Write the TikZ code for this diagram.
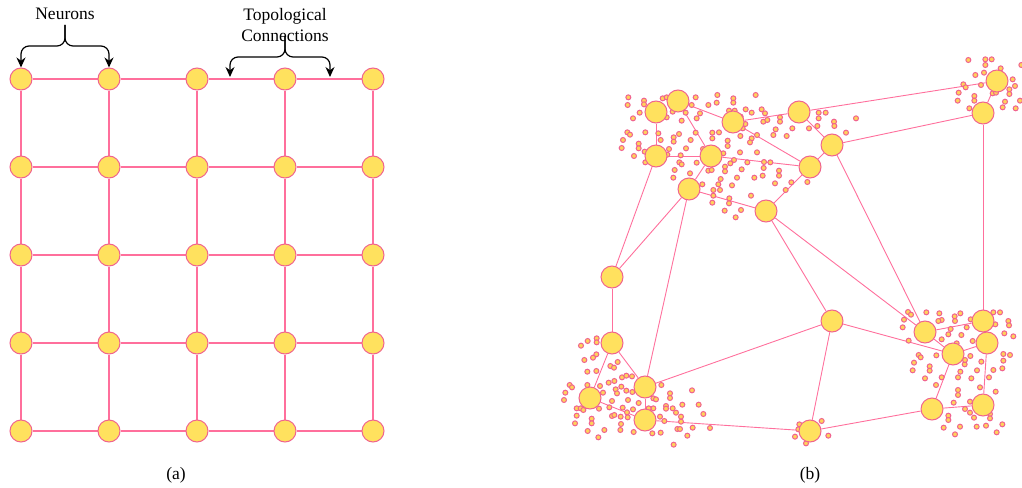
\documentclass[tikz,border=0pt]{standalone}
\usepackage{fontspec}
\setmainfont{Liberation Serif}
\usetikzlibrary{arrows.meta}
\definecolor{linkpink}{HTML}{FF6F9C}
\definecolor{rimpink}{HTML}{F0648F}
\definecolor{cellyellow}{HTML}{FFE15E}
\definecolor{dotyellow}{HTML}{FFD15A}
\pgfdeclarelayer{edges}
\pgfdeclarelayer{dots}
\pgfsetlayers{edges,dots,main}

\begin{document}
\begin{tikzpicture}[x=1pt,y=-1pt,
  neuron/.style={circle,draw=rimpink,fill=cellyellow,line width=1pt,minimum size=22pt,inner sep=0pt},
  link/.style={draw=linkpink,line width=0.9pt},
  gridlink/.style={draw=linkpink,line width=1.1pt},
  spark/.style={circle,draw=rimpink,fill=dotyellow,line width=1pt,minimum size=5pt,inner sep=0pt},
  pointer/.style={draw=black,line width=1.2pt,rounded corners=8pt,-{Stealth[length=10pt,width=9pt]}},
  caption/.style={font=\fontsize{17.5}{21}\selectfont,align=center,inner sep=1pt}]
\useasboundingbox (0,0) rectangle (1022,487);

% ---------- (a) regular lattice ----------
\foreach \x [count=\c] in {21,109,197,285,373}{
  \foreach \y [count=\r] in {79,167,255,343,431}{
    \node[neuron] (g\c\r) at (\x,\y) {};
  }
}
\begin{pgfonlayer}{edges}
  \foreach \c in {1,...,5}{
    \foreach \r [evaluate=\r as \s using int(\r+1)] in {1,...,4}{
      \draw[gridlink] (g\c\r) -- (g\c\s);
    }
  }
  \foreach \c [evaluate=\c as \d using int(\c+1)] in {1,...,4}{
    \foreach \r in {1,...,5}{
      \draw[gridlink] (g\c\r) -- (g\d\r);
    }
  }
\end{pgfonlayer}

\node[caption] (neu) at (65,14) {Neurons};
\node[caption] (topo) at (285,25) {Topological\\Connections};
\coordinate (nb) at (65,25);
\draw[pointer] (nb) -- (65,46) -- (21,46) -- (g11.north);
\draw[pointer] (nb) -- (65,46) -- (109,46) -- (g21.north);
\coordinate (tb) at (285,36);
\coordinate (tl) at (230,77);
\coordinate (tr) at (330,77);
\draw[pointer] (tb) -- (285,57) -- (230,57) -- (tl);
\draw[pointer] (tb) -- (285,57) -- (330,57) -- (tr);

\node[caption] (capa) at (176,475) {(a)};

% ---------- (b) self-organised network ----------
\node[neuron] (A) at (656,112) {};
\node[neuron] (B) at (678,101) {};
\node[neuron] (C) at (733,122) {};
\node[neuron] (D) at (799,112) {};
\node[neuron] (E) at (832,145) {};
\node[neuron] (F) at (656,156) {};
\node[neuron] (G) at (711,156) {};
\node[neuron] (H) at (810,167) {};
\node[neuron] (I) at (689,189) {};
\node[neuron] (J) at (766,211) {};
\node[neuron] (K) at (997,81) {};
\node[neuron] (L) at (983,113) {};
\node[neuron] (M) at (612,277) {};
\node[neuron] (N) at (832,321) {};
\node[neuron] (O) at (612,343) {};
\node[neuron] (P) at (590,398) {};
\node[neuron] (Q) at (645,387) {};
\node[neuron] (R) at (645,420) {};
\node[neuron] (S) at (925,332) {};
\node[neuron] (T) at (983,321) {};
\node[neuron] (U) at (987,343) {};
\node[neuron] (V) at (953,354) {};
\node[neuron] (W) at (932,409) {};
\node[neuron] (X) at (983,405) {};
\node[neuron] (Y) at (810,431) {};

\begin{pgfonlayer}{edges}
  \foreach \u/\v in {A/F,B/C,B/G,F/G,C/D,D/K,D/E,E/L,C/H,G/H,E/H,G/I,I/J,J/H,
                     F/M,I/M,I/Q,J/N,J/S,E/S,L/T,K/L,S/T,N/V,S/V,V/U,U/X,V/W,
                     W/X,W/Y,N/Y,R/Y,Q/N,M/O,O/P,O/Q,P/R,Q/R}{
    \draw[link] (\u) -- (\v);
  }
\end{pgfonlayer}

% scattered samples around the neurons
\begin{pgfonlayer}{dots}
\begin{scope}[shift={(560,50)},scale=1/3]
  \foreach \x/\y [count=\k] in {205/142,203/165,252/152,252/163,239/188,219/205,308/145,320/142,
    338/185,320/202,377/188,365/212,395/165,407/142,420/190,410/205,445/165,472/135,470/158,
    520/145,520/158,507/182,557/178,575/188,587/135,605/178,615/190,610/215,622/210,660/202,
    660/215,697/235,680/258,647/238,640/255,591/255,575/265,570/277,556/222,548/235,541/258,
    524/182,542/200,776/188,797/188,776/205,822/215,823/228,747/235,772/228,858/248,888/205,
    202/247,210/254,189/270,185/294,236/281,236/295,222/318,256/247,295/250,302/270,341/262,
    341/275,357/252,378/295,392/270,407/248,327/297,322/314,362/316,358/337,365/343,344/360,
    340/383,390/370,410/338,457/248,477/247,457/265,503/272,503/288,490/310,540/307,522/330,
    511/340,495/350,495/364,482/387,475/403,460/420,460/437,457/458,480/420,516/406,508/445,
    507/460,494/482,527/502,543/480,573/437,531/383,545/358,562/337,583/383,608/377,611/354,
    612/336,631/337,657/362,657/377,645/400,694/397,677/420,742/396,591/307,445/362,455/360,
    427/403,429/297,256/337,254/305}{
    \node[spark] (ta\k) at (\x,\y) {};
  }
\end{scope}
\begin{scope}[shift={(880,50)},scale=1/3]
  \foreach \x/\y [count=\k] in {265/30,316/28,335/28,316/45,286/75,312/68,362/55,424/45,250/103,
    257/112,236/128,233/152,283/138,283/152,303/105,338/130,348/128,388/118,388/132,398/88,
    405/108,375/155,368/172,407/175,420/152,268/175}{
    \node[spark] (tb\k) at (\x,\y) {};
  }
\end{scope}
\begin{scope}[shift={(550,300)},scale=1/3]
  \foreach \x/\y [count=\k] in {93/137,113/123,140/115,140/127,139/163,129/173,103/180,112/215,
    139/213,181/198,192/203,203/186,59/255,66/262,46/278,42/300,112/255,150/258,159/278,176/248,
    193/243,216/232,229/227,246/229,197/268,201/280,214/260,229/272,247/276,234/300,266/309,
    218/323,231/337,249/328,186/303,178/322,186/348,193/345,233/352,213/372,211/390,163/390,
    145/412,113/393,80/325,92/325,100/330,80/347,75/370,125/356,125/370,147/326,310/295,318/298,
    310/325,296/325,334/255,360/280,360/294,348/318,348/326,368/325,378/338,397/314,393/350,
    393/365,382/387,390/387,343/363,330/350,332/398,307/400,412/407,428/383,446/314,460/342,
    426/271,480/384,371/434,251/396,212/350}{
    \node[spark] (tc\k) at (\x,\y) {};
  }
\end{scope}
\begin{scope}[shift={(880,290)},scale=1/3]
  \foreach \x/\y [count=\k] in {84/66,93/74,139/67,178/70,185/90,175/93,224/79,241/70,225/93,
    72/89,68/112,86/152,185/148,205/133,212/117,244/135,230/160,260/112,272/88,340/67,360/67,
    385/93,387/106,373/130,400/139,346/103,278/153,116/195,122/202,102/218,98/241,149/229,
    149/242,169/196,135/265,185/262,234/262,241/245,254/223,255/210,271/198,304/215,291/241,
    274/265,327/262,340/240,367/235,370/212,370/192,390/195,300/292,347/305,234/300,234/315,
    221/338,255/357,270/335,270/368,282/383,330/372,330/385,318/407,290/410,240/410,205/377,
    205/390,191/413,225/433,350/427,367/403,168/285}{
    \node[spark] (td\k) at (\x,\y) {};
  }
\end{scope}
\begin{scope}[shift={(740,400)},scale=1/3]
  \foreach \x/\y [count=\k] in {178/73,245/63,265/107,165/110,198/130,175/88}{
    \node[spark] (te\k) at (\x,\y) {};
  }
\end{scope}
\end{pgfonlayer}

\node[caption] (capb) at (810,475) {(b)};
\end{tikzpicture}
\end{document}
